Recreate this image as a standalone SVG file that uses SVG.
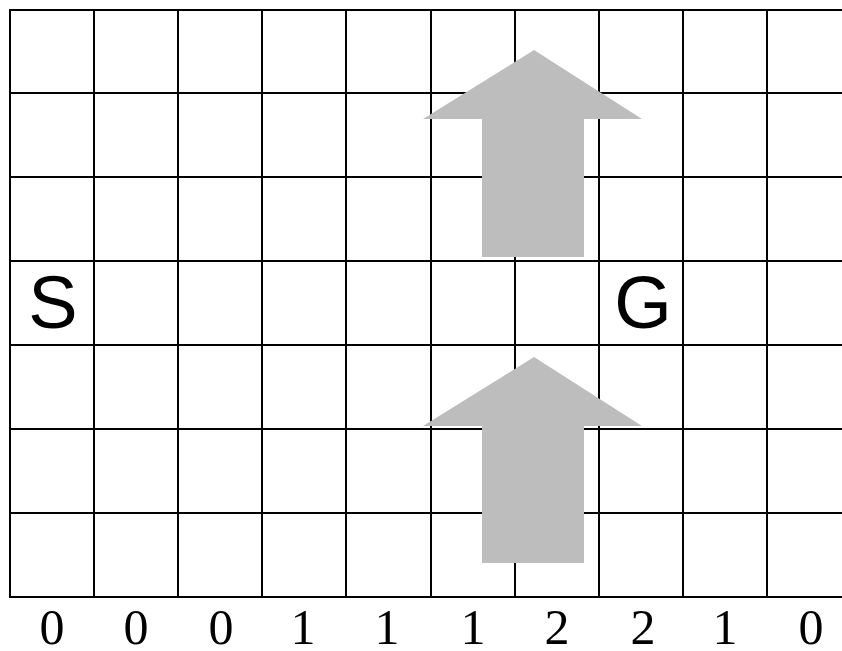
<svg xmlns="http://www.w3.org/2000/svg" width="842" height="651" viewBox="0 0 842 651">
<style>
.g line{stroke:#000;stroke-width:2}
.arr{fill:#bdbdbd}
.lbl{font-family:"Liberation Sans",Arial,sans-serif;font-size:74px;fill:#000;text-anchor:middle}
.num{font-family:"Liberation Serif","Times New Roman",serif;font-size:50px;fill:#000;text-anchor:middle}
</style>
<rect width="842" height="651" fill="#fff"/>
<g id="grid" class="g">
<line x1="10" y1="10" x2="842" y2="10"/>
<line x1="10" y1="93" x2="842" y2="93"/>
<line x1="10" y1="177" x2="842" y2="177"/>
<line x1="10" y1="261" x2="842" y2="261"/>
<line x1="10" y1="345" x2="842" y2="345"/>
<line x1="10" y1="429" x2="842" y2="429"/>
<line x1="10" y1="513" x2="842" y2="513"/>
<line x1="10" y1="597" x2="842" y2="597"/>
<line x1="10" y1="9" x2="10" y2="598"/>
<line x1="94" y1="9" x2="94" y2="598"/>
<line x1="178" y1="9" x2="178" y2="598"/>
<line x1="262" y1="9" x2="262" y2="598"/>
<line x1="346" y1="9" x2="346" y2="598"/>
<line x1="431" y1="9" x2="431" y2="598"/>
<line x1="515" y1="9" x2="515" y2="598"/>
<line x1="599" y1="9" x2="599" y2="598"/>
<line x1="683" y1="9" x2="683" y2="598"/>
<line x1="767" y1="9" x2="767" y2="598"/>
</g>
<g id="arrow-top">
<polygon class="arr" points="534,50 642,119 584,119 584,257 482,257 482,119 423,119"/>
</g>
<g id="arrow-bottom">
<polygon class="arr" points="534,357 642,426 584,426 584,563 482,563 482,426 423,426"/>
</g>
<g id="node-S"><text class="lbl" x="53" y="328">S</text></g>
<g id="node-G"><text class="lbl" x="643" y="328">G</text></g>
<g id="counts">
<text class="num" x="52" y="644">0</text>
<text class="num" x="136" y="644">0</text>
<text class="num" x="221" y="644">0</text>
<text class="num" x="303" y="644">1</text>
<text class="num" x="387" y="644">1</text>
<text class="num" x="473" y="644">1</text>
<text class="num" x="557" y="644">2</text>
<text class="num" x="643" y="644">2</text>
<text class="num" x="725" y="644">1</text>
<text class="num" x="811" y="644">0</text>
</g>
</svg>
